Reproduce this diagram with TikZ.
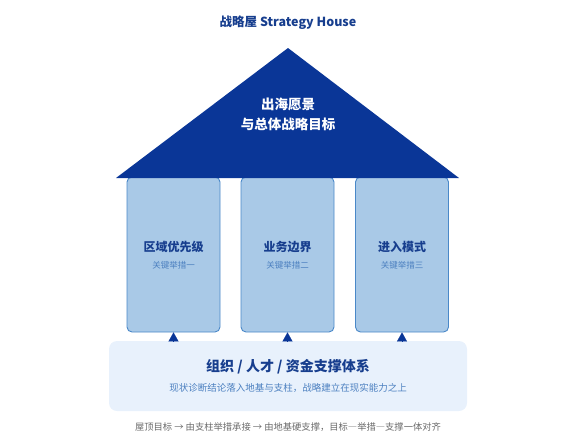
\documentclass[tikz,border=0pt]{standalone}
\usepackage{fontspec}
\setmainfont{Noto Sans CJK SC}
\usetikzlibrary{positioning, arrows.meta, calc}
\definecolor{roofblue}{HTML}{0A3697}
\definecolor{titleblue}{HTML}{173E8E}
\definecolor{pillarfill}{HTML}{A9C9E7}
\definecolor{pillarline}{HTML}{4A88C8}
\definecolor{softblue}{HTML}{4C80C0}
\definecolor{basefill}{HTML}{E8F1FC}
\definecolor{captiongray}{HTML}{6A6A6A}
\newcommand{\wdash}{{\addfontfeatures{CharacterWidth=Full}—}}

\begin{document}
\begin{tikzpicture}[x=1pt,y=-1pt,
  pillar/.style={draw=pillarline,line width=0.9pt,fill=pillarfill,rounded corners=5pt,
    minimum width=93pt,minimum height=155pt,inner sep=0pt},
  pillartitle/.style={text=titleblue,font=\fontsize{12}{14}\selectfont\bfseries},
  pillarsub/.style={text=softblue,font=\fontsize{8.5}{10}\selectfont}]
\useasboundingbox (0,0) rectangle (576,440);

\node[text=titleblue,font=\fontsize{12.5}{15}\selectfont\bfseries] (title) at (288,23) {战略屋 Strategy House};

% pillars
\foreach \x/\name/\main/\sub in {173.5/p1/区域优先级/关键举措一, 287.5/p2/业务边界/关键举措二, 402/p3/进入模式/关键举措三} {
  \node[pillar] (\name) at (\x,254.5) {};
  \node[pillartitle] (\name t) at (\x,247) {\main};
  \node[pillarsub] (\name s) at (\x,265) {\sub};
}

% roof
\coordinate (apex) at (288,48);
\coordinate (eaveL) at (116,178);
\coordinate (eaveR) at (459,178);
\fill[roofblue] (apex) -- (eaveR) -- (eaveL) -- cycle;
\node[text=white,align=center,font=\fontsize{13.5}{20}\selectfont\bfseries] (vision) at (288,114) {出海愿景\\与总体战略目标};

% foundation
\node[fill=basefill,rounded corners=8pt,minimum width=358pt,minimum height=70pt] (base) at (288,376) {};
\node[text=titleblue,font=\fontsize{14}{16}\selectfont\bfseries] (baset) at (288,367) {组织 / 人才 / 资金支撑体系};
\node[text=softblue,font=\fontsize{9.5}{11}\selectfont] (bases) at (288,388) {现状诊断结论落入地基与支柱，战略建立在现实能力之上};

\foreach \name in {p1,p2,p3} {
  \draw[roofblue,line width=0.1pt,-{Triangle[length=9pt,width=10pt]}] (base.north -| \name.south) -- (\name.south);
}

\node[text=captiongray,font=\fontsize{9.3}{11}\selectfont] (caption) at (288,427) {屋顶目标 → 由支柱举措承接 → 由地基硬支撑，目标\wdash 举措\wdash 支撑一体对齐};
\end{tikzpicture}
\end{document}
